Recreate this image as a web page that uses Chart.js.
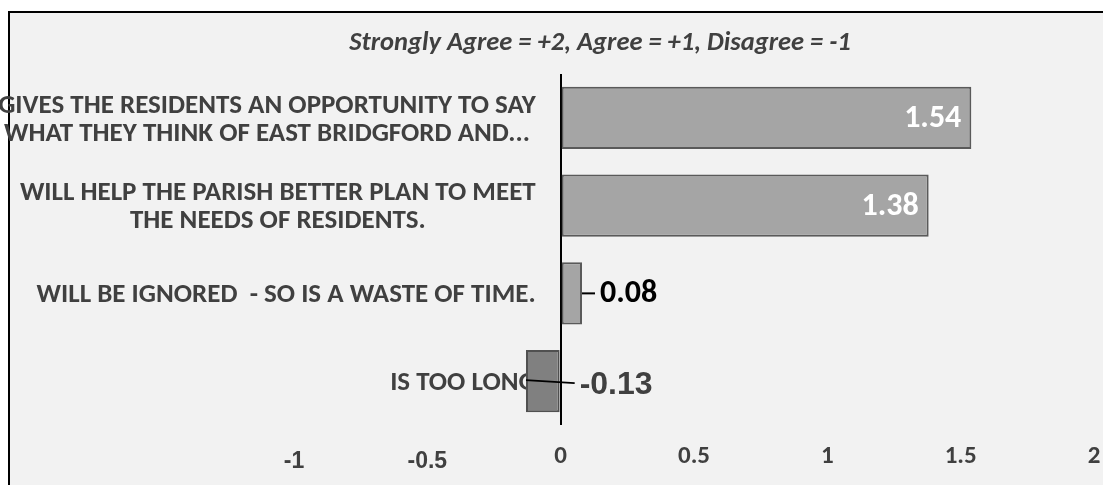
<!DOCTYPE html>
<html>
<head>
<meta charset="utf-8">
<script src="https://cdn.jsdelivr.net/npm/chart.js@4.4.1/dist/chart.umd.min.js"></script>
<style>
  html, body { margin: 0; padding: 0; background: #fff; }
  #frame {
    position: absolute; left: 8px; top: 11px;
    width: 1200px; height: 600px;
    background: #f2f2f2; border: 2px solid #000;
  }
  #holder { position: absolute; left: 0; top: 0; width: 1103px; height: 485px; }
</style>
</head>
<body>
<div id="frame"></div>
<div id="holder"><canvas id="chart" width="1103" height="485"></canvas></div>
<script>
// chart data
const categories = [
    ['GIVES THE RESIDENTS AN OPPORTUNITY TO SAY', 'WHAT THEY THINK OF EAST BRIDGFORD AND...'],
    ['WILL HELP THE PARISH BETTER PLAN TO MEET', 'THE NEEDS OF RESIDENTS.'],
    ['WILL BE IGNORED  - SO IS A WASTE OF TIME.'],
    ['IS TOO LONG']
];
const scores = [1.54, 1.38, 0.08, -0.13];
const tickValues = [-1, -0.5, 0, 0.5, 1, 1.5, 2];
const subtitleText = 'Strongly Agree = +2, Agree = +1, Disagree = -1';

const barFill = scores.map(v => v < 0 ? '#808080' : '#a5a5a5');
const barEdge = scores.map(v => v < 0 ? '#505050' : '#5a5a5a');

const FONT = 'Carlito, Lato, sans-serif';
const ARIAL = '"Liberation Sans", Arial, sans-serif';

// category labels sit next to the zero line, like the excel original
const categoryLabels = {
    id: 'categoryLabels',
    beforeDatasetsDraw(chart) {
        const {ctx, scales: {x, y}} = chart;
        const x0 = x.getPixelForValue(0);
        ctx.save();
        ctx.font = 'bold 27px ' + FONT;
        ctx.fillStyle = '#404040';
        ctx.textBaseline = 'middle';
        ctx.textAlign = 'center';
        categories.forEach((lines, i) => {
            const cy = y.getPixelForValue(i);
            const w = Math.max(...lines.map(l => ctx.measureText(l).width));
            const cx = x0 - 25 - w / 2;
            const lh = 28;
            lines.forEach((l, j) => {
                ctx.fillText(l, cx, cy + (j - (lines.length - 1) / 2) * lh + 2);
            });
        });
        // subtitle
        ctx.font = 'italic bold 26.5px ' + FONT;
        ctx.fillText(subtitleText, 600, 43);

        // x tick labels
        ctx.fillStyle = '#404040';
        tickValues.forEach(v => {
            const px = x.getPixelForValue(v);
            if (v < 0) {
                ctx.font = 'bold 23px ' + ARIAL;
                ctx.fillText(String(v), px, 462);
            } else {
                ctx.font = 'bold 25px ' + FONT;
                ctx.fillText(String(v), px, 457);
            }
        });
        ctx.restore();
    }
};

const valueLabels = {
    id: 'valueLabels',
    afterDraw(chart) {
        const {ctx, scales: {x}} = chart;
        const x0 = x.getPixelForValue(0);
        const meta = chart.getDatasetMeta(0);
        ctx.save();
        ctx.textBaseline = 'middle';
        meta.data.forEach((bar, i) => {
            const v = scores[i];
            const txt = v.toFixed(2);
            if (v >= 1) {
                ctx.font = 'bold 32px ' + FONT;
                ctx.fillStyle = '#ffffff';
                ctx.textAlign = 'right';
                ctx.fillText(txt, bar.x - 10, bar.y + 1);
            } else if (v >= 0) {
                ctx.strokeStyle = '#000';
                ctx.lineWidth = 2;
                ctx.beginPath();
                ctx.moveTo(bar.x, bar.y);
                ctx.lineTo(bar.x + 13, bar.y);
                ctx.stroke();
                ctx.font = 'bold 32px ' + FONT;
                ctx.fillStyle = '#000';
                ctx.textAlign = 'left';
                ctx.fillText(txt, bar.x + 18, bar.y + 1);
            } else {
                ctx.strokeStyle = '#000';
                ctx.lineWidth = 2;
                ctx.beginPath();
                ctx.moveTo(bar.x, bar.y - 1);
                ctx.lineTo(x0 + 14, bar.y + 2);
                ctx.stroke();
                ctx.font = 'bold 32px ' + ARIAL;
                ctx.fillStyle = '#404040';
                ctx.textAlign = 'left';
                ctx.fillText(txt, x0 + 19, bar.y + 4);
            }
        });
        ctx.restore();
    }
};

new Chart(document.getElementById('chart'), {
    type: 'bar',
    data: {
        labels: categories,
        datasets: [{
            data: scores,
            backgroundColor: barFill,
            borderColor: barEdge,
            borderWidth: 2,
            borderSkipped: false,
            categoryPercentage: 1,
            barPercentage: 0.71
        }]
    },
    options: {
        indexAxis: 'y',
        responsive: false,
        animation: false,
        layout: { padding: { left: 294, right: 9, top: 74, bottom: 60 } },
        plugins: {
            legend: { display: false },
            tooltip: { enabled: false },
            title: { display: false }
        },
        scales: {
            x: {
                min: -1,
                max: 2,
                afterBuildTicks: axis => { axis.ticks = tickValues.map(v => ({value: v})); },
                border: { display: false },
                grid: {
                    drawTicks: false,
                    lineWidth: 2,
                    color: c => c.tick && c.tick.value === 0 ? '#000' : 'rgba(0,0,0,0)'
                },
                ticks: { display: false }
            },
            y: {
                display: false
            }
        }
    },
    plugins: [categoryLabels, valueLabels]
});
</script>
</body>
</html>
